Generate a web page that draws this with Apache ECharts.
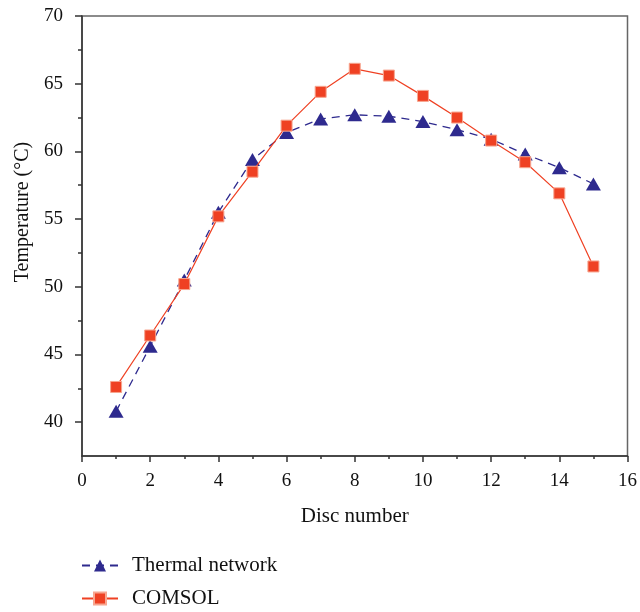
<!DOCTYPE html>
<html>
<head>
<meta charset="utf-8">
<script src="https://cdn.jsdelivr.net/npm/echarts@6/dist/echarts.min.js"></script>
<style>
  html, body { margin: 0; padding: 0; background: #fff; }
  #chart { width: 640px; height: 612px; }
</style>
</head>
<body>
<div id="chart"></div>
<script>
// disc index and temperatures
const discs = [1, 2, 3, 4, 5, 6, 7, 8, 9, 10, 11, 12, 13, 14, 15];
const thermalNetwork = [40.8, 45.6, 50.5, 55.5, 59.4, 61.4, 62.4, 62.7, 62.6, 62.2, 61.6, 60.9, 59.8, 58.8, 57.6];
const comsol = [42.6, 46.4, 50.2, 55.2, 58.5, 61.9, 64.4, 66.1, 65.6, 64.1, 62.5, 60.8, 59.2, 56.9, 51.5];
const yMajor = [40, 45, 50, 55, 60, 65, 70];
const yMinor = [42.5, 47.5, 52.5, 57.5, 62.5, 67.5];

const font = 'Liberation Serif';
const chart = echarts.init(document.getElementById('chart'));

const pairs = (ys) => discs.map((x, i) => [x, ys[i]]);

chart.setOption({
  animation: false,
  textStyle: { fontFamily: font },
  grid: {
    left: 82, top: 16, right: 12, bottom: 156,
    show: true, borderColor: '#666', borderWidth: 1.5
  },
  legend: {
    orient: 'vertical',
    left: 81,
    top: 555,
    padding: 0,
    itemWidth: 36,
    itemHeight: 15,
    itemGap: 12,
    textStyle: { fontFamily: font, fontSize: 21, color: '#111', padding: [0, 0, 0, 9] },
    data: ['Thermal network', 'COMSOL']
  },
  xAxis: {
    type: 'value',
    min: 0, max: 16, interval: 2,
    name: 'Disc number',
    nameLocation: 'middle',
    nameGap: 50,
    nameTextStyle: { fontFamily: font, fontSize: 21, color: '#111' },
    axisLine: { lineStyle: { color: '#333', width: 1.5 } },
    axisTick: { length: 6, lineStyle: { color: '#333', width: 1.5 } },
    minorTick: { show: true, splitNumber: 2, length: 3, lineStyle: { color: '#333', width: 1.5 } },
    axisLabel: { fontFamily: font, fontSize: 19, color: '#111', margin: 16 },
    splitLine: { show: false }
  },
  yAxis: [
    {
      type: 'value',
      min: 37.5, max: 70,
      name: 'Temperature (°C)',
      nameLocation: 'middle',
      nameGap: 48,
      nameTextStyle: { fontFamily: font, fontSize: 20, color: '#111', padding: [0, 0, 0, 48] },
      axisLine: { show: true, lineStyle: { color: '#333', width: 1.5 } },
      axisTick: { show: true, length: 7, customValues: yMajor, lineStyle: { color: '#333', width: 1.5 } },
      axisLabel: { fontFamily: font, fontSize: 19, color: '#111', margin: 19, customValues: yMajor },
      splitLine: { show: false }
    },
    {
      type: 'value',
      position: 'left',
      min: 37.5, max: 70,
      axisLine: { show: false },
      axisTick: { show: true, length: 4, customValues: yMinor, lineStyle: { color: '#333', width: 1.5 } },
      axisLabel: { show: false },
      splitLine: { show: false }
    }
  ],
  series: [
    {
      name: 'Thermal network',
      type: 'line',
      data: pairs(thermalNetwork),
      symbol: 'triangle',
      symbolSize: [15, 13],
      itemStyle: { color: '#2e2a8e' },
      lineStyle: { color: '#2e2a8e', width: 1.3, type: [8, 6] },
      z: 2
    },
    {
      name: 'COMSOL',
      type: 'line',
      data: pairs(comsol),
      symbol: 'rect',
      symbolSize: 11,
      itemStyle: { color: '#ef4123', borderColor: '#f7a690', borderWidth: 1 },
      lineStyle: { color: '#ef4123', width: 1.2 },
      z: 3
    }
  ]
});
</script>
</body>
</html>
